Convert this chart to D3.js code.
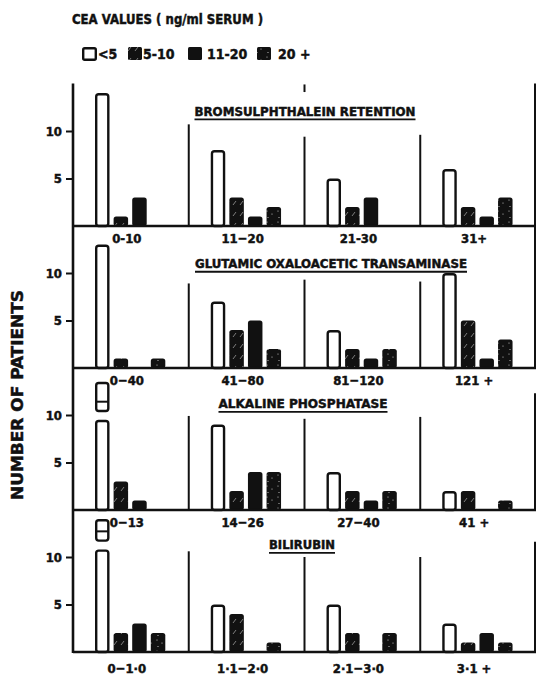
<!DOCTYPE html>
<html>
<head>
<meta charset="utf-8">
<script src="https://cdn.jsdelivr.net/npm/d3@7"></script>
<style>
  body { margin: 0; background: #fff; }
  text { font-family: "DejaVu Sans Condensed", "DejaVu Sans", sans-serif; font-weight: bold; fill: #111; stroke: #111; stroke-width: 0.45; }
</style>
</head>
<body>
<div id="chart"></div>
<script>
// CEA classes and the four liver function tests
const series = ["<5", "5-10", "11-20", "20+"];
const legendLabels = ["<5", "5-10", "11-20", "20 +"];
const panelTitles = ["BROMSULPHTHALEIN RETENTION", "GLUTAMIC OXALOACETIC TRANSAMINASE", "ALKALINE PHOSPHATASE", "BILIRUBIN"];
const groupLabels = [
  ["0-10", "11\u221220", "21-30", "31+"],
  ["0\u221240", "41\u221280", "81\u2212120", "121 +"],
  ["0\u221213", "14\u221226", "27\u221240", "41 +"],
  ["0\u22121\u00b70", "1\u00b71\u22122\u00b70", "2\u00b71\u22123\u00b70", "3\u00b71 +"]
];
const yTicks = [5, 10];

// number of patients, per group: [<5, 5-10, 11-20, 20+]
const bsp  = [[14, 1, 3, 0], [8, 3, 1, 2], [5, 2, 3, 0], [6, 2, 1, 3]];
const got  = [[13, 1, 0, 1], [7, 4, 5, 2], [4, 2, 1, 2], [10, 5, 1, 3]];
const alk  = [[13.5, 3, 1, 0], [9, 2, 4, 4], [4, 2, 1, 2], [2, 2, 0, 1]];   // first bar broken (off scale)
const bili = [[14, 2, 3, 2], [5, 4, 0, 1], [5, 2, 0, 2], [3, 1, 2, 1]];     // first bar broken (off scale)
const panels = [bsp, got, alk, bili];

// broken first bar: [gap from, gap to, inner line] in patients
const breaks = [null, null, [9.5, 10.3, 11.4], [10.8, 11.6, 12.7]];

// hand drawn divider heights (patients) and right edge height
const dividerTops = [[10.7, 9.4, 9.6], [8.9, 9.3, 9.1], [9.9, 9.6, 9.8], [10.6, 10.0, 10.0]];
const rightEdgeTops = [15, 15, 12.3, 11.6];

// layout
const W = 536, H = 676;
const axisX = 73, rightX = 536;
const firstBase = 226, panelStep = 142, panelH = 142.5;
const titleLevel = [11.6, 10.5, 10.7, 10.8];
const titleCx = [305, 331, 303, 302];
const titleW = [221, 272, 169, 66];

const svg = d3.select("#chart").append("svg")
    .attr("width", W)
    .attr("height", H);

// fill patterns (sparse white marks on black, as in the print)
const defs = svg.append("defs");
const hatch = defs.append("pattern")
    .attr("id", "hatch")
    .attr("patternUnits", "userSpaceOnUse")
    .attr("width", 7).attr("height", 11);
hatch.append("rect").attr("width", 7).attr("height", 11).attr("fill", "#111");
hatch.append("path").attr("d", "M2,7 L5,3").attr("stroke", "#aaa").attr("stroke-width", 0.7);

const dots = defs.append("pattern")
    .attr("id", "dots")
    .attr("patternUnits", "userSpaceOnUse")
    .attr("width", 11).attr("height", 11);
dots.append("rect").attr("width", 11).attr("height", 11).attr("fill", "#111");
[[3, 2], [8, 5], [4, 8.5]].forEach(p => {
  dots.append("circle").attr("cx", p[0]).attr("cy", p[1]).attr("r", 0.6).attr("fill", "#ccc");
});

const fills = ["#fff", "url(#hatch)", "#111", "url(#dots)"];

// legend
svg.append("text")
    .attr("x", 72).attr("y", 24)
    .attr("font-size", 13.5)
    .attr("textLength", 191)
    .attr("lengthAdjust", "spacingAndGlyphs")
    .text("CEA VALUES ( ng/ml SERUM )");

const legX = [82, 128, 188, 257];
const legTextX = [98, 143, 207, 278];
series.forEach((s, i) => {
  svg.append("rect")
      .attr("x", legX[i] + (i === 0 ? 1.2 : 0))
      .attr("y", 47 + (i === 0 ? 1.2 : 0))
      .attr("width", i === 0 ? 12.6 : 14)
      .attr("height", i === 0 ? 11.6 : 13)
      .attr("rx", 1.5)
      .attr("fill", fills[i])
      .attr("stroke", i === 0 ? "#111" : "none")
      .attr("stroke-width", 2.4);
  svg.append("text")
      .attr("x", legTextX[i]).attr("y", 59)
      .attr("font-size", 14)
      .text(legendLabels[i]);
});

// scales shared by all panels
const x0 = d3.scaleBand()
    .domain(d3.range(4))
    .range([axisX, rightX]);

const x1 = d3.scaleBand()
    .domain(series)
    .range([22, 92.3])
    .paddingInner(0.22);

// y axis title
svg.append("text")
    .attr("transform", "translate(23,395) rotate(-90)")
    .attr("text-anchor", "middle")
    .attr("font-size", 16)
    .attr("textLength", 210)
    .attr("lengthAdjust", "spacingAndGlyphs")
    .text("NUMBER OF PATIENTS");

panels.forEach((data, p) => {
  const base = firstBase + p * panelStep;
  const y = d3.scaleLinear().domain([0, 15]).range([base, base - panelH]);
  const g = svg.append("g");

  // ticks
  const ax = g.append("g")
      .attr("transform", `translate(${axisX},0)`)
      .call(d3.axisLeft(y).tickValues(yTicks).tickSize(7).tickPadding(4).tickFormat(d3.format("d")));
  ax.select(".domain").remove();
  ax.selectAll("line").attr("stroke", "#111").attr("stroke-width", 2);
  ax.selectAll("text")
      .attr("font-size", 13)
      .attr("fill", "#111")
      .style("font-family", "'DejaVu Sans Condensed', 'DejaVu Sans', sans-serif")
      .style("font-weight", "bold");

  // dividers between groups
  dividerTops[p].forEach((t, i) => {
    const xx = x0(i + 1);
    g.append("line")
        .attr("x1", xx).attr("x2", xx)
        .attr("y1", base).attr("y2", y(t))
        .attr("stroke", "#111").attr("stroke-width", 2);
  });
  if (p === 0) {
    g.append("line")
        .attr("x1", x0(2)).attr("x2", x0(2))
        .attr("y1", y(14.1)).attr("y2", y(14.9))
        .attr("stroke", "#111").attr("stroke-width", 2);
  }

  // right edge
  g.append("line")
      .attr("x1", rightX - 1).attr("x2", rightX - 1)
      .attr("y1", base).attr("y2", y(rightEdgeTops[p]))
      .attr("stroke", "#111").attr("stroke-width", 2);

  // bars
  data.forEach((vals, gi) => {
    vals.forEach((v, si) => {
      if (!v) return;
      const bx = x0(gi) + x1(series[si]);
      const bw = x1.bandwidth();
      const pieces = [];
      if (si === 0 && gi === 0 && breaks[p]) {
        pieces.push([0, breaks[p][0]], [breaks[p][1], v]);
      } else {
        pieces.push([0, v]);
      }
      pieces.forEach(pc => {
        const sw = si === 0 ? 2.4 : 0;
        g.append("rect")
            .attr("x", bx + sw / 2)
            .attr("y", y(pc[1]) + sw / 2)
            .attr("width", bw - sw)
            .attr("height", y(pc[0]) - y(pc[1]) - (pc[0] === 0 ? sw / 2 : sw))
            .attr("rx", 2.5)
            .attr("fill", fills[si])
            .attr("stroke", si === 0 ? "#111" : "none")
            .attr("stroke-width", sw);
      });
      if (si === 0 && gi === 0 && breaks[p]) {
        g.append("line")
            .attr("x1", bx + 1).attr("x2", bx + bw - 1)
            .attr("y1", y(breaks[p][2])).attr("y2", y(breaks[p][2]))
            .attr("stroke", "#111").attr("stroke-width", 2);
      }
    });
  });

  // baseline
  g.append("line")
      .attr("x1", axisX).attr("x2", rightX)
      .attr("y1", base).attr("y2", base)
      .attr("stroke", "#111").attr("stroke-width", 2.6);

  // group labels under the baseline
  groupLabels[p].forEach((lab, gi) => {
    g.append("text")
        .attr("x", x0(gi) + x0.bandwidth() / 2 - 4)
        .attr("y", base + (p === 3 ? 21 : 17))
        .attr("text-anchor", "middle")
        .attr("font-size", 13)
        .text(lab);
  });

  // panel title, underlined
  const ty = y(titleLevel[p]);
  g.append("text")
      .attr("x", titleCx[p]).attr("y", ty)
      .attr("text-anchor", "middle")
      .attr("font-size", 12.5)
      .attr("textLength", titleW[p])
      .attr("lengthAdjust", "spacingAndGlyphs")
      .text(panelTitles[p]);
  g.append("line")
      .attr("x1", titleCx[p] - titleW[p] / 2).attr("x2", titleCx[p] + titleW[p] / 2)
      .attr("y1", ty + 3.5).attr("y2", ty + 3.5)
      .attr("stroke", "#111").attr("stroke-width", 1.8);
});

// left axis line through all panels
svg.append("line")
    .attr("x1", axisX).attr("x2", axisX)
    .attr("y1", firstBase - panelH).attr("y2", firstBase + 3 * panelStep + 1)
    .attr("stroke", "#111").attr("stroke-width", 2.6);
</script>
</body>
</html>
